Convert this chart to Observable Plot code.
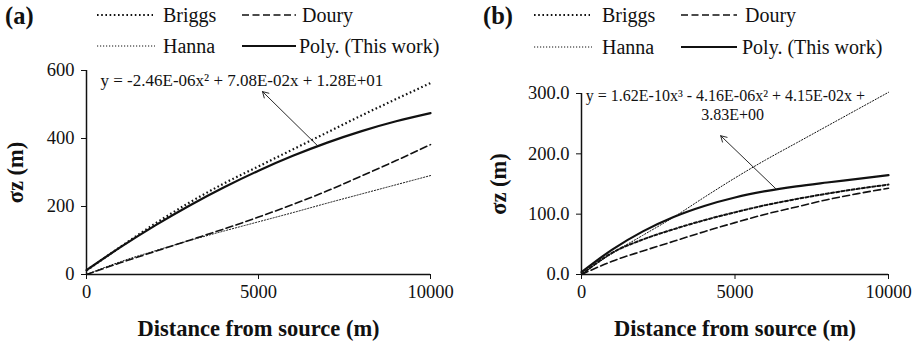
<!DOCTYPE html>
<html>
<head>
<meta charset="utf-8">
<script src="https://cdn.jsdelivr.net/npm/d3@7"></script>
<script src="https://cdn.jsdelivr.net/npm/@observablehq/plot@0.6"></script>
<style>
  html, body { margin: 0; padding: 0; background: #fff; }
  #root { position: relative; width: 919px; height: 341px; overflow: hidden; font-family: "Liberation Serif", "Times New Roman", serif; color: #111; }
  #root svg text { font-family: "Liberation Serif", "Times New Roman", serif !important; }
  .panel { position: absolute; top: 58px; }
  .plab { position: absolute; font-weight: bold; font-size: 24.5px; line-height: 1; }
  .leg { position: absolute; font-size: 20px; line-height: 1; white-space: nowrap; }
  .sw { position: absolute; }
  svg [aria-label="x-axis label"] text, svg [aria-label="y-axis label"] text,
  svg g[aria-label="x-axis label"], svg g[aria-label="y-axis label"] { font-weight: bold; font-size: 22.5px; }
</style>
</head>
<body>
<div id="root"></div>
<script>
// ---------- data ----------
const distance = [0, 1000, 2000, 3000, 4000, 5000, 6000, 7000, 8000, 9000, 10000];

// panel (a)
const briggsA = [12, 82, 150, 212, 268, 318, 368, 418, 468, 516, 563];
const douryA  = [0, 35, 68, 101, 134, 169, 206, 246, 290, 335, 382];
const hannaA  = [0, 38, 70, 100, 128, 155, 182, 210, 237, 264, 291];
const polyA   = [12.8, 81.1, 144.6, 203.1, 256.6, 305.3, 349.0, 387.9, 421.8, 450.7, 474.8];

// panel (b)
const briggsB = [0, 36, 58, 75, 90, 103, 115, 125, 134, 142, 149];
const douryB  = [0, 22, 39, 55, 71, 86, 100, 112, 124, 134, 143];
const hannaB  = [0, 35, 65, 95, 128, 160, 190, 218, 246, 274, 302];
const polyB   = [3.83, 41.3, 71.5, 95.3, 113.6, 127.6, 138.1, 146.1, 152.5, 158.5, 164.8];

const seriesNames = ["Briggs", "Doury", "Hanna", "Poly. (This work)"];
const xTicks = [0, 5000, 10000];
const yTicksA = [0, 200, 400, 600];
const yTicksB = [0, 100, 200, 300];
const panelLabels = ["(a)", "(b)"];
const xLabel = "Distance from source (m)";
const yLabel = "σz (m)";
const eqA = "y = -2.46E-06x² + 7.08E-02x + 1.28E+01";
const eqB1 = "y = 1.62E-10x³ - 4.16E-06x² + 4.15E-02x +";
const eqB2 = "3.83E+00";
// annotation anchors (data coordinates)
const eqAPos = {x: 407, y: 571};
const eqB1Pos = {x: 140, y: 296};
const eqB2Pos = {x: 4920, y: 265};
const arrowA = {x1: 6715, y1: 379, x2: 5116, y2: 538};
const arrowB = {x1: 6323, y1: 142.5, x2: 4533, y2: 230};

// ---------- styles ----------
const styleA = {
  "Briggs": {strokeWidth: 2.2, strokeDasharray: "1.6,2.6", strokeLinecap: "butt"},
  "Doury": {strokeWidth: 1.6, strokeDasharray: "7,3.5"},
  "Hanna": {strokeWidth: 1, strokeDasharray: "1.2,1.8"},
  "Poly. (This work)": {strokeWidth: 2.2}
};
const styleB = {
  "Briggs": {strokeWidth: 2, strokeDasharray: "3,2.2"},
  "Doury": {strokeWidth: 1.6, strokeDasharray: "7,3.5"},
  "Hanna": {strokeWidth: 1, strokeDasharray: "1.2,1.8"},
  "Poly. (This work)": {strokeWidth: 2.2}
};

function table(vals) { return distance.map((d, i) => ({x: d, y: vals[i]})); }

function makePanel(opts) {
  const {series, styles, yDomain, yTicks, yFmt, width, marginLeft, marginRight, marginTop, yLabelOffset, ann} = opts;
  const marks = [];
  seriesNames.forEach((name, i) => {
    marks.push(Plot.line(table(series[i]), {x: "x", y: "y", stroke: "#111", curve: "monotone-x", ...styles[name]}));
  });
  ann.texts.forEach(t => marks.push(Plot.text([t], {x: "x", y: "y", text: "text", textAnchor: t.anchor, fontSize: t.size, fill: "#111"})));
  marks.push(Plot.arrow([ann.arrow], {x1: "x1", y1: "y1", x2: "x2", y2: "y2", stroke: "#111", strokeWidth: 0.9, headLength: 11, bend: 0}));
  marks.push(Plot.ruleX([0], {stroke: "#111", strokeWidth: 1.5}));
  marks.push(Plot.ruleY([0], {stroke: "#111", strokeWidth: 1.5}));
  marks.push(Plot.axisX({ticks: xTicks, tickSize: 5, tickPadding: 5, tickFormat: d => String(d), label: xLabel, labelAnchor: "center", labelOffset: 61, labelArrow: "none"}));
  marks.push(Plot.axisY({ticks: yTicks, tickSize: 5, tickPadding: 7, tickFormat: yFmt, label: yLabel, labelAnchor: "center", labelOffset: yLabelOffset, labelArrow: "none"}));
  return Plot.plot({
    width, height: 283,
    marginLeft, marginRight, marginTop, marginBottom: 67,
    x: {domain: [0, 10000]},
    y: {domain: yDomain},
    style: {fontFamily: "'Liberation Serif', 'Times New Roman', serif", fontSize: "18.5px", color: "#111", background: "transparent", overflow: "visible"},
    marks
  });
}

const root = document.getElementById("root");

const pA = makePanel({
  series: [briggsA, douryA, hannaA, polyA], styles: styleA,
  yDomain: [0, 600], yTicks: yTicksA, yFmt: d => String(d),
  width: 460, marginLeft: 86, marginRight: 30, marginTop: 12, yLabelOffset: 79,
  ann: {texts: [{...eqAPos, text: eqA, anchor: "start", size: 17}], arrow: arrowA}
});
const pB = makePanel({
  series: [briggsB, douryB, hannaB, polyB], styles: styleB,
  yDomain: [0, 300], yTicks: yTicksB, yFmt: d => d.toFixed(1),
  width: 459, marginLeft: 121, marginRight: 31, marginTop: 35, yLabelOffset: 91,
  ann: {texts: [{...eqB1Pos, text: eqB1, anchor: "start", size: 16}, {...eqB2Pos, text: eqB2, anchor: "middle", size: 16}], arrow: arrowB}
});

const dA = document.createElement("div"); dA.className = "panel"; dA.style.left = "0px"; dA.appendChild(pA); root.appendChild(dA);
const dB = document.createElement("div"); dB.className = "panel"; dB.style.left = "460px"; dB.appendChild(pB); root.appendChild(dB);

// ---------- panel labels & legends (HTML) ----------
function addText(cls, txt, left, cy) {
  const e = document.createElement("div"); e.className = cls; e.textContent = txt;
  e.style.left = left + "px"; e.style.top = cy + "px"; e.style.transform = "translateY(-50%)";
  root.appendChild(e);
}
function addSwatch(x1, x2, cy, st) {
  const ns = "http://www.w3.org/2000/svg";
  const s = document.createElementNS(ns, "svg");
  s.setAttribute("class", "sw"); s.setAttribute("width", x2 - x1); s.setAttribute("height", 6);
  s.style.left = x1 + "px"; s.style.top = (cy - 3) + "px";
  const l = document.createElementNS(ns, "line");
  l.setAttribute("x1", 0); l.setAttribute("x2", x2 - x1); l.setAttribute("y1", 3); l.setAttribute("y2", 3);
  l.setAttribute("stroke", "#111"); l.setAttribute("stroke-width", st.strokeWidth);
  if (st.strokeDasharray) l.setAttribute("stroke-dasharray", st.strokeDasharray);
  s.appendChild(l); root.appendChild(s);
}
addText("plab", panelLabels[0], 5, 16);
addText("plab", panelLabels[1], 483, 16);

const legendA = {row1: 15, row2: 46, s1: [97, 153], t1: 163, s2: [242, 296], t2: 302};
const legendB = {row1: 15, row2: 47, s1: [534, 590], t1: 602, s2: [681, 737], t2: 745};
[legendA, legendB].forEach(L => {
  const st = styleA;
  addSwatch(L.s1[0], L.s1[1], L.row1, st["Briggs"]); addText("leg", seriesNames[0], L.t1, L.row1);
  addSwatch(L.s2[0], L.s2[1], L.row1, st["Doury"]); addText("leg", seriesNames[1], L.t2, L.row1);
  addSwatch(L.s1[0], L.s1[1] + 2, L.row2, st["Hanna"]); addText("leg", seriesNames[2], L.t1, L.row2);
  addSwatch(L.s2[0], L.s2[1], L.row2, st["Poly. (This work)"]); addText("leg", seriesNames[3], L.t2 - 3, L.row2);
});
</script>
</body>
</html>
